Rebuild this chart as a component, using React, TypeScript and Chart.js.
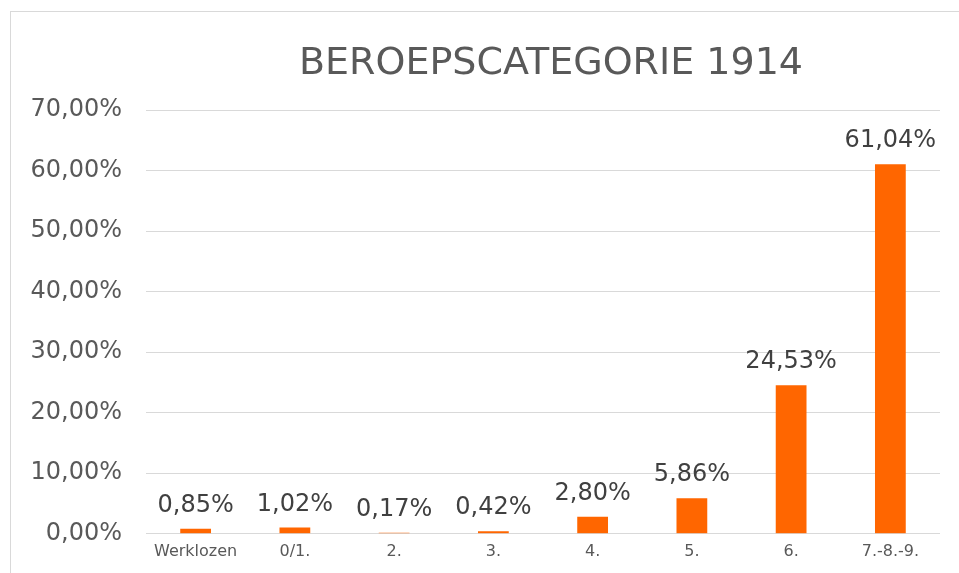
import React, { useEffect, useRef } from "react";
import { Chart, registerables } from "chart.js";

Chart.register(...registerables);

const categories = ["Werklozen", "0/1.", "2.", "3.", "4.", "5.", "6.", "7.-8.-9."];
const values = [0.85, 1.02, 0.17, 0.42, 2.8, 5.86, 24.53, 61.04];
const titleText = "BEROEPSCATEGORIE 1914";
const FONT = "'DejaVu Sans', Verdana, sans-serif";

const fmt = (v: number) => v.toFixed(2).replace(".", ",") + "%";

const titlePlugin = {
  id: "customTitle",
  afterDraw(chart: any) {
    const ctx = chart.ctx;
    ctx.save();
    ctx.font = `38px ${FONT}`;
    ctx.fillStyle = "#595959";
    ctx.textAlign = "center";
    ctx.textBaseline = "alphabetic";
    ctx.fillText(titleText, 551, 74);
    ctx.restore();
  },
};

const labelPlugin = {
  id: "valueLabels",
  afterDatasetsDraw(chart: any) {
    const ctx = chart.ctx;
    const meta = chart.getDatasetMeta(0);
    ctx.save();
    ctx.font = `24px ${FONT}`;
    ctx.fillStyle = "#404040";
    ctx.textAlign = "center";
    ctx.textBaseline = "alphabetic";
    meta.data.forEach((bar: any, i: number) => {
      ctx.fillText(fmt(values[i]), bar.x, bar.y - 17);
    });
    ctx.restore();
  },
};

export default function App() {
  const ref = useRef<HTMLCanvasElement>(null);
  useEffect(() => {
    if (!ref.current) return;
    const chart = new Chart(ref.current, {
      type: "bar",
      data: {
        labels: categories,
        datasets: [
          {
            data: values,
            backgroundColor: "#FF6600",
            borderWidth: 0,
            barPercentage: 0.31,
            categoryPercentage: 1,
          },
        ],
      },
      options: {
        animation: false,
        responsive: false,
        maintainAspectRatio: false,
        layout: { padding: { top: 110, left: 30, right: 19, bottom: 4 } },
        plugins: {
          legend: { display: false },
          title: { display: false },
          tooltip: { enabled: false },
        },
        scales: {
          x: {
            grid: { display: false, drawTicks: false },
            border: { display: false },
            ticks: {
              color: "#595959",
              font: { family: FONT, size: 16 },
              padding: 8,
              maxRotation: 0,
              autoSkip: false,
            },
          },
          y: {
            min: 0,
            max: 70,
            grid: { color: "#D9D9D9", lineWidth: 1, drawTicks: false },
            border: { display: false },
            afterFit: (axis: any) => {
              axis.width = 116;
            },
            ticks: {
              stepSize: 10,
              color: "#595959",
              font: { family: FONT, size: 24 },
              padding: 24,
              callback: (v: any) => fmt(Number(v)),
            },
          },
        },
      },
      plugins: [titlePlugin, labelPlugin],
    });
    return () => chart.destroy();
  }, []);

  return (
    <div
      style={{
        position: "absolute",
        left: 0,
        top: 0,
        width: 959,
        height: 573,
        overflow: "hidden",
        background: "#fff",
      }}
    >
      <div
        style={{
          position: "absolute",
          left: 10,
          top: 11,
          width: 1200,
          height: 800,
          border: "1px solid #D9D9D9",
        }}
      />
      <canvas
        ref={ref}
        width={959}
        height={573}
        style={{ position: "absolute", left: 0, top: 0, display: "block" }}
      />
    </div>
  );
}
